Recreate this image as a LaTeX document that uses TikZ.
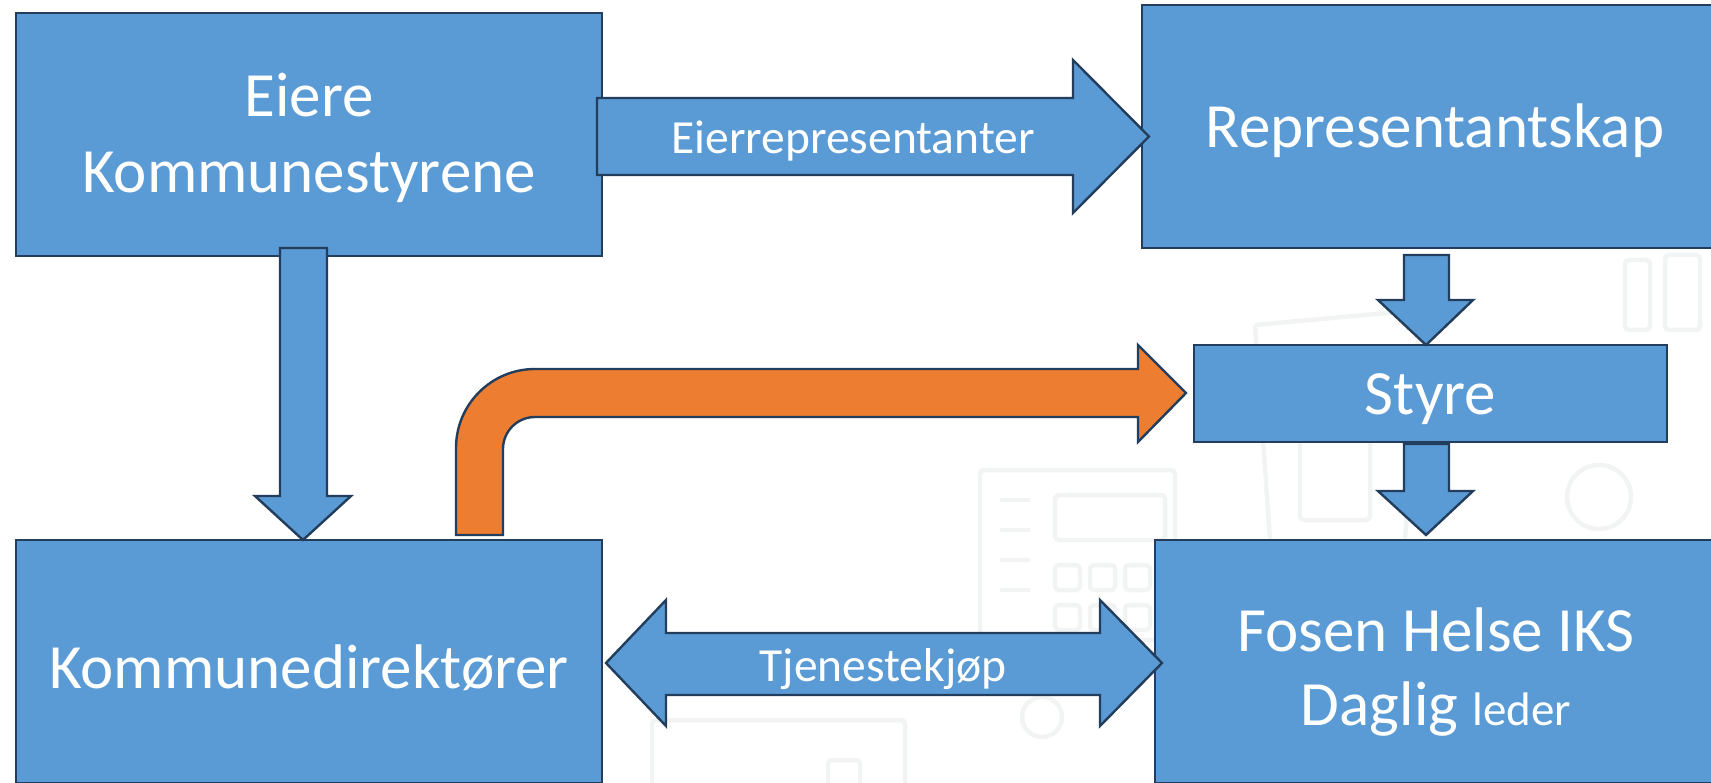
\documentclass[tikz,border=0pt]{standalone}
\usepackage{fontspec}
\setmainfont{Carlito}
\definecolor{boxfill}{HTML}{5B9BD5}
\definecolor{boxline}{HTML}{223E5C}
\definecolor{orangefill}{HTML}{ED7D31}
\definecolor{faint}{HTML}{F2F4F4}
\tikzset{
  box/.style={draw=boxline, fill=boxfill, line width=2.4pt, inner sep=0pt},
  boxtext/.style={text=white, align=center, inner sep=0pt, font=\fontsize{63}{76}\selectfont},
  bigarrow/.style={draw=boxline, fill=boxfill, line width=2.4pt, line join=miter},
  orangearrow/.style={draw=boxline, fill=orangefill, line width=2.4pt, line join=miter},
  arrowlabel/.style={text=white, inner sep=0pt, font=\fontsize{47.5}{56}\selectfont},
  deco/.style={draw=faint, line width=4.5pt, rounded corners=4pt}
}
\begin{document}
\begin{tikzpicture}[x=1pt, y=-1pt]
\useasboundingbox (0,0) rectangle (1711,783);
\clip (0,0) rectangle (1711,783);
% faint background icons
\draw[deco] (980,470) rectangle (1175,640);
\draw[deco] (1000,500) -- (1030,500) (1000,530) -- (1030,530) (1000,560) -- (1030,560) (1000,590) -- (1030,590);
\draw[deco] (1055,495) rectangle (1165,540);
\draw[deco] (1055,565) rectangle (1080,590) (1090,565) rectangle (1115,590) (1125,565) rectangle (1150,590);
\draw[deco] (1055,605) rectangle (1080,630) (1090,605) rectangle (1115,630) (1125,605) rectangle (1150,630);
\draw[deco] (1255,325) -- (1270,540) (1255,325) -- (1420,310) (1420,310) -- (1405,540);
\draw[deco] (1300,360) rectangle (1370,520);
\draw[deco] (1599,497) circle (32);
\draw[deco] (1042,717) circle (20);
\draw[deco] (652,720) rectangle (905,800);
\draw[deco] (828,760) rectangle (860,800);
\draw[deco] (1625,260) rectangle (1650,330) (1665,255) rectangle (1700,330);
% boxes
\node[box, minimum width=586pt, minimum height=243pt] (eiere) at (309,134.5) {};
\node[box, minimum width=586pt, minimum height=243pt] (rep) at (1435,126.5) {};
\node[box, minimum width=473pt, minimum height=97pt] (styre) at (1430.5,393.5) {};
\node[box, minimum width=586pt, minimum height=243pt] (komm) at (309,661.5) {};
\node[box, minimum width=562pt, minimum height=243pt] (fosen) at (1436,661.5) {};
% box texts
\node[boxtext] (eieret) at ([yshift=-3pt]eiere.center) {Eiere\\Kommunestyrene};
\node[boxtext] (rept) at ([yshift=-4pt]rep.center) {Representantskap};
\node[boxtext] (styret) at ([yshift=-6pt]styre.center) {Styre};
\node[boxtext] (kommt) at ([yshift=-6pt]komm.center) {Kommunedirektører};
\node[boxtext, font=\fontsize{63}{74}\selectfont] (fosent) at ([yshift=-11pt]fosen.center) {Fosen Helse IKS\\Daglig {\fontsize{47}{52}\selectfont leder}};
% Eierrepresentanter arrow
\draw[bigarrow] (597,98) -- (1073,98) -- (1073,60) -- (1149,136.5) -- (1073,213) -- (1073,175) -- (597,175) -- cycle;
\node[arrowlabel] (eierrep) at (853,141) {Eierrepresentanter};
% Eiere -> Kommunedirektører
\draw[bigarrow] (280,248) -- (327,248) -- (327,496) -- (351,496) -- (303,540) -- (255,496) -- (280,496) -- cycle;
% Representantskap -> Styre
\draw[bigarrow] (1404,255) -- (1449,255) -- (1449,300) -- (1473,300) -- (1426,345) -- (1378,300) -- (1404,300) -- cycle;
% Styre -> Fosen
\draw[bigarrow] (1404,444) -- (1449,444) -- (1449,491) -- (1473,491) -- (1426,535) -- (1378,491) -- (1404,491) -- cycle;
% Tjenestekjøp double arrow
\draw[bigarrow] (606,663) -- (666,600) -- (666,633) -- (1100,633) -- (1100,600) -- (1162,663) -- (1100,726) -- (1100,695) -- (666,695) -- (666,726) -- cycle;
\node[arrowlabel] (tjen) at (883,669) {Tjenestekjøp};
% orange bent arrow
\draw[orangearrow] (456,535) -- (456,448) arc[start angle=180, end angle=270, radius=79] -- (1138,369) -- (1138,345) -- (1186,393) -- (1138,442) -- (1138,417) -- (535,417) arc[start angle=270, end angle=180, radius=32] -- (503,535) -- cycle;
\end{tikzpicture}
\end{document}
